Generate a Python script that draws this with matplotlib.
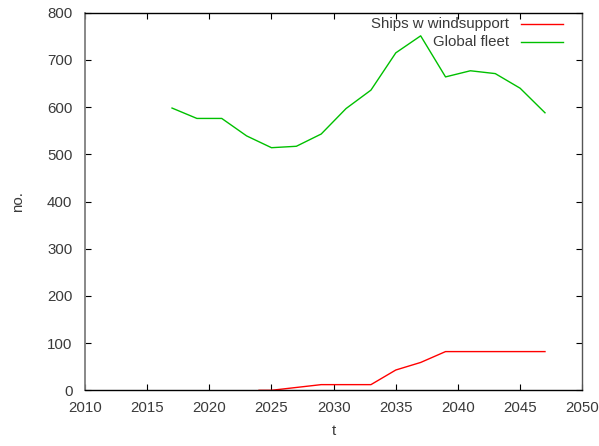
import matplotlib
matplotlib.use("Agg")
import matplotlib.pyplot as plt
from matplotlib.lines import Line2D

# Global fleet size, every second year
fleet_years = [2017, 2019, 2021, 2023, 2025, 2027, 2029, 2031,
               2033, 2035, 2037, 2039, 2041, 2043, 2045, 2047]
fleet_values = [598, 576, 576, 539, 514, 517, 543, 597,
                636, 715, 751, 664, 677, 671, 640, 588]

# Ships fitted with wind support
wind_years = [2024, 2025, 2026, 2029, 2033, 2035, 2037, 2039, 2047]
wind_values = [0, 0, 3, 12, 12, 43, 59, 82, 82]

series_labels = ["Ships w windsupport", "Global fleet"]
series_colors = ["#ff0000", "#00c000"]

x_ticks = list(range(2010, 2051, 5))
y_ticks = list(range(0, 801, 100))

plt.rcParams["font.family"] = ["Liberation Sans", "DejaVu Sans"]
text_color = "#3a3a3a"
fs = 10.8

fig = plt.figure(figsize=(5.99, 4.46), dpi=100)
ax = fig.add_axes([0.1419, 0.1249, 0.9721 - 0.1419, 0.9715 - 0.1249])

ax.plot(wind_years, wind_values, color=series_colors[0], lw=1.0)
ax.plot(fleet_years, fleet_values, color=series_colors[1], lw=1.0)

ax.set_xlim(2010, 2050)
ax.set_ylim(0, 800)
ax.set_xticks(x_ticks)
ax.set_yticks(y_ticks)
ax.tick_params(direction="in", length=4.5, width=0.8, top=True, right=True,
               labelsize=fs, labelcolor=text_color, color="#000000")
ax.tick_params(axis="x", pad=8.0)
ax.tick_params(axis="y", pad=9.0)

for side in ["top", "bottom", "right"]:
    ax.spines[side].set_color("#000000")
    ax.spines[side].set_linewidth(1.0)
ax.spines["left"].set_color("#7f7f7f")
ax.spines["left"].set_linewidth(1.3)
ax.spines["right"].set_color("#555555")

ax.set_xlabel("t", fontsize=fs, color=text_color, labelpad=6.5)
ax.set_ylabel("no.", fontsize=fs, color=text_color, labelpad=16)

# key in the upper right corner: label text right-aligned, sample line after it
key_rows_y = [0.9693, 0.9216]
for label, color, yk in zip(series_labels, series_colors, key_rows_y):
    ax.text(0.8526, yk, label, transform=ax.transAxes, ha="right", va="center",
            fontsize=fs, color=text_color)
    ax.add_line(Line2D([0.8767, 0.9612], [yk, yk], transform=ax.transAxes,
                       color=color, lw=1.0))

fig.savefig("out.png", dpi=100)
